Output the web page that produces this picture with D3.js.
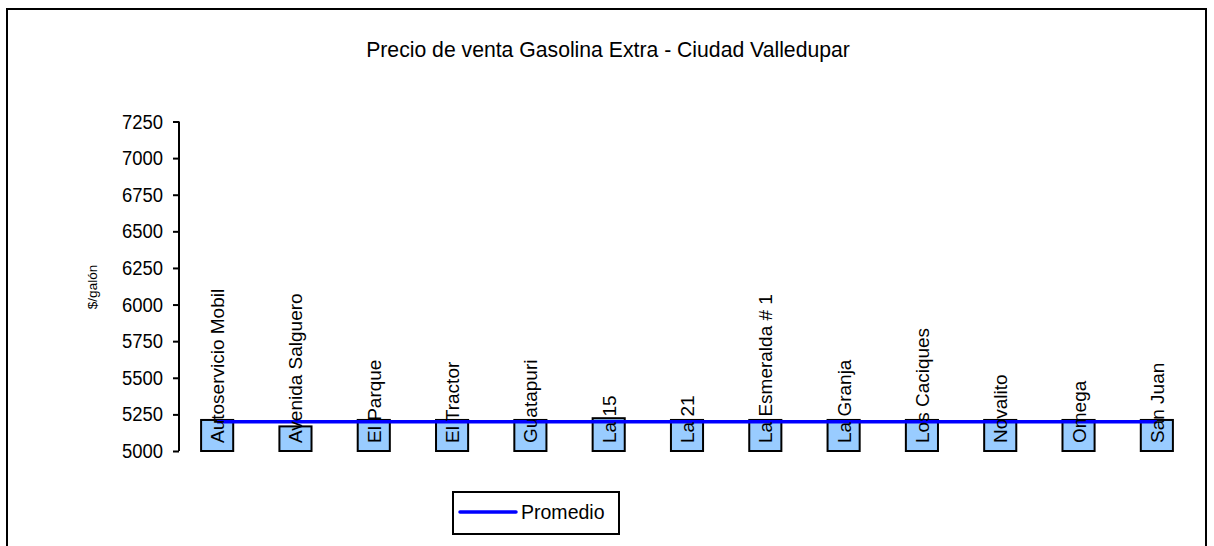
<!DOCTYPE html>
<html>
<head>
<meta charset="utf-8">
<script src="https://cdn.jsdelivr.net/npm/d3@7"></script>
<style>
  html, body { margin: 0; padding: 0; background: #fff; }
  svg { display: block; font-family: "Liberation Sans", Arial, sans-serif; }
</style>
</head>
<body>
<svg id="chart" width="1214" height="546"></svg>
<script>
const categories = ["Autoservicio Mobil", "Avenida Salguero", "El Parque", "El Tractor", "Guatapuri",
  "La 15", "La 21", "La Esmeralda # 1", "La Granja", "Los Caciques", "Novalito", "Omega", "San Juan"];
const precios = [5212, 5168, 5212, 5212, 5212, 5224, 5212, 5212, 5212, 5212, 5212, 5212, 5212];
const promedio = [5200, 5200, 5200, 5200, 5200, 5200, 5200, 5200, 5200, 5200, 5200, 5200, 5200];
const yTicks = [5000, 5250, 5500, 5750, 6000, 6250, 6500, 6750, 7000, 7250];
const titleText = "Precio de venta Gasolina Extra - Ciudad Valledupar";
const yLabel = "$/galón";
const legendLabel = "Promedio";

const svg = d3.select("#chart");

// outer chart border
svg.append("rect")
  .attr("x", 7).attr("y", 9).attr("width", 1199).attr("height", 600)
  .attr("fill", "none").attr("stroke", "#000").attr("stroke-width", 2);

const x = d3.scaleBand().domain(categories).range([178, 1196])
  .paddingInner(0.59).paddingOuter(0.295);
const y = d3.scaleLinear().domain([5000, 7250]).range([451, 121.5]);

// title (slightly condensed, as in the reference)
svg.append("text")
  .attr("transform", "translate(608,57) scale(0.93,1)")
  .attr("text-anchor", "middle")
  .attr("font-size", 22.8)
  .attr("fill", "#000")
  .text(titleText);

// y axis
const yAxis = d3.axisLeft(y).tickValues(yTicks).tickSize(6).tickPadding(10).tickFormat(d3.format("d"));
const gy = svg.append("g").attr("transform", "translate(179,0)").call(yAxis);
gy.select(".domain").attr("stroke", "#000").attr("stroke-width", 2).attr("d", `M0,${y(7250)}V${y(5000)}`);
gy.selectAll(".tick line").attr("stroke", "#000").attr("stroke-width", 2);
gy.selectAll(".tick text")
  .attr("font-size", 20.5).attr("fill", "#000")
  .attr("font-family", "'Liberation Sans', Arial, sans-serif")
  .attr("x", -16 / 0.9)
  .attr("transform", "scale(0.9,1)");

// y label
svg.append("text")
  .attr("transform", `translate(97,${287}) rotate(-90)`)
  .attr("text-anchor", "middle")
  .attr("font-size", 13.5)
  .attr("fill", "#000")
  .text(yLabel);

// bars
svg.append("g").selectAll("rect")
  .data(categories)
  .join("rect")
  .attr("x", d => x(d))
  .attr("y", (d, i) => y(precios[i]))
  .attr("width", x.bandwidth())
  .attr("height", (d, i) => y(5000) - y(precios[i]))
  .attr("fill", "#99CCFF")
  .attr("stroke", "#000")
  .attr("stroke-width", 2);

// promedio line
const line = d3.line()
  .x((d, i) => x(categories[i]) + x.bandwidth() / 2)
  .y(d => y(d));
svg.append("path")
  .datum(promedio)
  .attr("d", line)
  .attr("fill", "none")
  .attr("stroke", "#0000FF")
  .attr("stroke-width", 3.5);

// category labels (inside base, rotated)
svg.append("g").selectAll("text")
  .data(categories)
  .join("text")
  .attr("transform", d => `translate(${x(d) + x.bandwidth() / 2 + 7},${443}) rotate(-90)`)
  .attr("text-anchor", "start")
  .attr("font-size", 19)
  .attr("fill", "#000")
  .text(d => d);

// legend
const lg = svg.append("g");
lg.append("rect")
  .attr("x", 453).attr("y", 492).attr("width", 166).attr("height", 42)
  .attr("fill", "#fff").attr("stroke", "#000").attr("stroke-width", 2);
lg.append("line")
  .attr("x1", 460).attr("x2", 516).attr("y1", 512).attr("y2", 512)
  .attr("stroke", "#0000FF").attr("stroke-width", 3.5).attr("stroke-linecap", "round");
lg.append("text")
  .attr("transform", "translate(521,519) scale(0.93,1)")
  .attr("font-size", 21)
  .attr("fill", "#000")
  .text(legendLabel);
</script>
</body>
</html>
